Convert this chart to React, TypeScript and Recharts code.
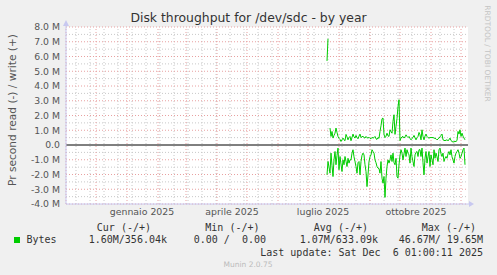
import React from 'react';
import { LineChart, Line, XAxis, YAxis, CartesianGrid, ReferenceLine } from 'recharts';

// Day index 0 = 1 Nov 2024, 400 = 6 Dec 2025 (one pixel per day in the original)
const startDay = 261;

// write (+), in M bytes per second
const writeM: (number | null)[] = [
  5.7, 7.2, null, 1.15, 0.58, 0.92, 0.47, 0.65, 0.8, 1.15,
  0.85, 0.58, 0.45, 0.38, 0.24, 0.35, 0.47, 0.35, 0.29, 0.72,
  0.55, 0.35, 0.5, 0.58, 0.29, 0.5, 0.74, 0.55, 0.47, 0.65,
  0.5, 0.42, 0.6, 0.74, 0.51, 0.55, 0.6, 0.5, 0.47, 0.58,
  0.5, 0.47, 0.52, 0.45, 0.42, 0.52, 0.47, 0.5, 0.58, 0.42,
  0.38, 0.51, 0.45, 0.92, 1.3, 1.78, 1.83, 0.72, 0.5, 0.6,
  0.8, 0.62, 0.58, 1.03, 0.9, 0.8, 1.6, 2.05, 0.72, 1.26,
  1.8, 2.6, 3.07, 0.3, 0.47, 0.55, 0.58, 0.47, 0.55, 0.69,
  0.58, 0.51, 0.58, 0.45, 0.35, 0.45, 0.51, 0.65, 0.5, 0.35,
  0.5, 0.58, 0.85, 0.69, 0.35, 1.03, 0.58, 0.35, 0.6, 0.74,
  0.58, 0.5, 0.47, 0.5, 0.51, 0.5, 0.51, 0.47, 0.45, 0.42,
  0.35, 0.4, 0.47, 0.55, 0.65, 0.74, 0.35, 0.32, 0.29, 0.33,
  0.35, 0.29, 0.35, 0.47, 0.3, 0.24, 0.2, 0.22, 0.24, 0.24,
  0.3, 0.92, 0.74, 1.03, 0.58, 0.8, 0.6, 0.47, 0.35,
];

// read (-), in M bytes per second (drawn negative)
const readM: (number | null)[] = [
  -2.02, -1.12, -1.5, -1.91, -0.55, -1.4, -2.14, -1.0, -0.44, -1.34,
  -0.7, -0.21, -1.68, -0.78, -1.3, -1.8, -1.01, -1.34, -0.78, -1.1,
  -1.46, -0.9, -1.23, -1.0, -1.01, -0.55, -0.32, -0.8, -1.12, -1.46,
  -1.91, -1.2, -1.12, -2.02, -1.12, -0.7, -0.55, -0.67, -1.34, -1.8,
  -2.82, -2.02, -1.12, -0.8, -0.67, -0.32, -0.44, -0.55, -1.01, -1.2,
  -1.46, -1.57, -1.6, -1.91, -1.12, -2.25, -2.59, -2.14, -3.55, -2.25,
  -1.46, -1.01, -1.23, -1.0, -0.67, -1.12, -0.55, -1.2, -1.34, -0.9,
  -2.14, -2.25, -1.34, -0.7, -0.32, -0.55, -1.01, -0.6, -0.21, -0.78,
  -0.32, -0.55, -0.67, -1.23, -0.21, -0.8, -1.12, -1.46, -0.67, -0.5,
  -0.44, -0.78, -0.32, -0.32, -0.78, -0.21, -1.2, -2.02, -0.9, -0.44,
  -1.23, -0.8, -0.44, -1.46, -0.67, -1.0, -1.34, -0.32, -0.9, -0.55,
  -0.8, -1.12, -0.32, -0.21, -0.6, -0.78, -0.55, -1.12, -0.9, -0.78,
  -0.9, -0.6, -0.44, -0.67, -0.32, -0.8, -1.01, -1.23, -0.78, -0.55,
  -0.44, -0.32, -0.55, -0.9, -0.78, -0.55, -0.32, -0.21, -1.34,
];

const yTicks = [-4, -3, -2, -1, 0, 1, 2, 3, 4, 5, 6, 7, 8];
const yMinor = [-3.5, -2.5, -1.5, -0.5, 0.5, 1.5, 2.5, 3.5, 4.5, 5.5, 6.5, 7.5];
const monthStarts = [0, 30, 61, 92, 120, 151, 181, 212, 242, 273, 304, 334, 365, 395];
const biweekly = [10, 24, 38, 52, 66, 80, 94, 108, 122, 136, 150, 164, 178, 192, 206, 220, 234, 248, 262, 276, 290, 304, 318, 332, 346, 360, 374, 388];
const xLabelDays = [76, 166, 257, 350];
const xLabels = ['gennaio 2025', 'aprile 2025', 'luglio 2025', 'ottobre 2025'];

const legendHeaders = ['Cur (-/+)', 'Min (-/+)', 'Avg (-/+)', 'Max (-/+)'];
const legendValues = ['1.60M/356.04k', '0.00 /  0.00', '1.07M/633.09k', '46.67M/ 19.65M'];
const legendHeaderEnds = [151, 259.5, 368, 476];
const legendValueEnds = [167, 266, 378, 483];

const data = writeM.map((w, i) => ({ day: startDay + i, write: w, read: readM[i] }));

const W = 497;
const H = 275;
const SANS = '"DejaVu Sans", Verdana, sans-serif';
const MONO = '"DejaVu Sans Mono", monospace';
const AXIS = '#c8c8f0';
const MAJOR = '#e8a0a0';
const MINOR = '#c8c8c8';
const GREEN = '#00cc00';

const fmtY = (v: number) => (v === 0 ? '0.0' : `${v.toFixed(1)} M`);
const fmtX = (v: number) => xLabels[xLabelDays.indexOf(v)] ?? '';

export default function App() {
  return (
    <div style={{ position: 'relative', width: W, height: H, background: '#f0f0f0', overflow: 'hidden' }}>
      <style>{'body{margin:0}'}</style>
      <LineChart width={W} height={H} data={data} margin={{ top: 27, right: 29, bottom: 41, left: 6 }}>
        <CartesianGrid fill="#ffffff" horizontal={false} vertical={false} stroke="none" />
        {yMinor.map((v) => (
          <ReferenceLine key={'ym' + v} y={v} stroke={MINOR} strokeDasharray="1 2" />
        ))}
        {biweekly.map((v) => (
          <ReferenceLine key={'xm' + v} x={v} stroke={MINOR} strokeDasharray="1 2" />
        ))}
        {yTicks.filter((v) => v !== 0).map((v) => (
          <ReferenceLine key={'yM' + v} y={v} stroke={MAJOR} strokeDasharray="1 2" />
        ))}
        {monthStarts.map((v) => (
          <ReferenceLine key={'xM' + v} x={v} stroke={MAJOR} strokeDasharray="1 2" />
        ))}
        <XAxis
          type="number"
          dataKey="day"
          domain={[0, 402]}
          ticks={xLabelDays}
          tickFormatter={fmtX}
          interval={0}
          allowDataOverflow
          height={30}
          axisLine={{ stroke: AXIS }}
          tickLine={false}
          tickSize={2}
          tickMargin={2}
          tick={{ fill: '#555', fontSize: 9.4, fontFamily: SANS }}
        />
        <YAxis
          type="number"
          domain={[-4, 8]}
          ticks={yTicks}
          tickFormatter={fmtY}
          interval={0}
          allowDataOverflow
          width={60}
          axisLine={{ stroke: AXIS }}
          tickLine={false}
          tickSize={4}
          tickMargin={2}
          tick={{ fill: '#555', fontSize: 9.3, fontFamily: SANS }}
        />
        <ReferenceLine y={0} stroke="#000000" strokeWidth={1} />
        <Line type="linear" dataKey="write" stroke={GREEN} strokeWidth={1} dot={false} isAnimationActive={false} connectNulls={false} />
        <Line type="linear" dataKey="read" stroke={GREEN} strokeWidth={1} dot={false} isAnimationActive={false} connectNulls={false} />
      </LineChart>
      <svg width={W} height={H} style={{ position: 'absolute', left: 0, top: 0, pointerEvents: 'none' }}>
        <line x1={66} y1={27} x2={66} y2={23} stroke={AXIS} />
        <polygon points="63,26 69,26 66,20" fill={AXIS} />
        <line x1={468} y1={204} x2={470} y2={204} stroke={AXIS} />
        <polygon points="469,201 469,207 474,204" fill={AXIS} />
        <text x={248.5} y={22} textAnchor="middle" fontFamily={SANS} fontSize={12.4} fill="#333">
          Disk throughput for /dev/sdc - by year
        </text>
        <text
          transform="translate(15.5,110) rotate(-90)"
          textAnchor="middle"
          fontFamily={SANS}
          fontSize={10.6}
          fill="#555"
        >
          Pr second read (-) / write (+)
        </text>
        <text
          transform="translate(485,53.5) rotate(90)"
          textAnchor="middle"
          fontFamily={SANS}
          fontSize={7.5}
          fill="#c4c4c4"
        >
          RRDTOOL / TOBI OETIKER
        </text>
        {legendHeaders.map((t, i) => (
          <text key={t} x={legendHeaderEnds[i]} y={230.5} textAnchor="end" fontFamily={MONO} fontSize={10} fill="#333" style={{ whiteSpace: 'pre' }}>
            {t}
          </text>
        ))}
        <rect x={14} y={237} width={6} height={6} fill={GREEN} />
        <text x={26.5} y={243} fontFamily={MONO} fontSize={10} fill="#333">Bytes</text>
        {legendValues.map((t, i) => (
          <text key={t} x={legendValueEnds[i]} y={243} textAnchor="end" fontFamily={MONO} fontSize={10} fill="#333" style={{ whiteSpace: 'pre' }}>
            {t}
          </text>
        ))}
        <text x={483} y={255.5} textAnchor="end" fontFamily={MONO} fontSize={10} fill="#333" style={{ whiteSpace: 'pre' }}>
          {'Last update: Sat Dec  6 01:00:11 2025'}
        </text>
        <text x={248} y={267} textAnchor="middle" fontFamily={SANS} fontSize={7.5} fill="#bbbbbb">
          Munin 2.0.75
        </text>
      </svg>
    </div>
  );
}
